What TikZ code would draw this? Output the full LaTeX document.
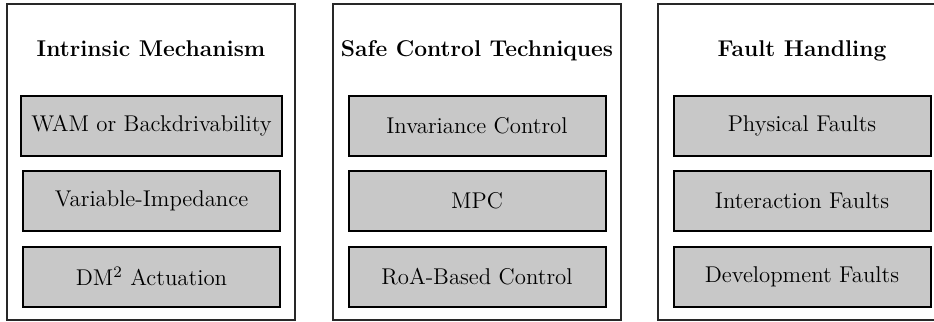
\documentclass[tikz,border=0pt]{standalone}
\definecolor{boxgray}{RGB}{200,200,200}
\definecolor{framegray}{RGB}{40,40,40}
\begin{document}
\begin{tikzpicture}[x=0.5pt,y=-0.5pt,
  panel/.style={draw=framegray, line width=0.6pt, minimum width=144pt, minimum height=158pt, inner sep=0pt},
  itembox/.style={draw=black, line width=1pt, fill=boxgray, minimum width=128.5pt,
    minimum height=30pt, inner sep=5pt, font=\fontsize{11.4}{13.5}\selectfont},
  heading/.style={anchor=base, inner sep=0pt, font=\fontsize{11.4}{13.5}\selectfont\bfseries}]
\useasboundingbox (0,0) rectangle (934,322);
\clip (0,0) rectangle (934,322);

% three columns
\node[panel] (p1) at (151,162) {};
\node[panel] (p2) at (477,162) {};
\node[panel] (p3) at (802,162) {};

% column headings
\node[heading] (h1) at (151,56) {Intrinsic Mechanism};
\node[heading] (h2) at (477,56) {Safe Control Techniques};
\node[heading] (h3) at (802,56) {Fault Handling};

% items of the first column
\node[itembox] (a1) at (151.5,125.5) {WAM or Backdrivability};
\node[itembox] (a2) at (151.5,201) {Variable-Impedance};
\node[itembox] (a3) at (151.5,276.5) {DM$^2$ Actuation};

% items of the second column
\node[itembox] (b1) at (477,125.5) {Invariance Control};
\node[itembox] (b2) at (477,201) {MPC};
\node[itembox] (b3) at (477,276.5) {RoA-Based Control};

% items of the third column
\node[itembox] (c1) at (802,125.5) {Physical Faults};
\node[itembox] (c2) at (802,201) {Interaction Faults};
\node[itembox] (c3) at (802,276.5) {Development Faults};
\end{tikzpicture}
\end{document}
